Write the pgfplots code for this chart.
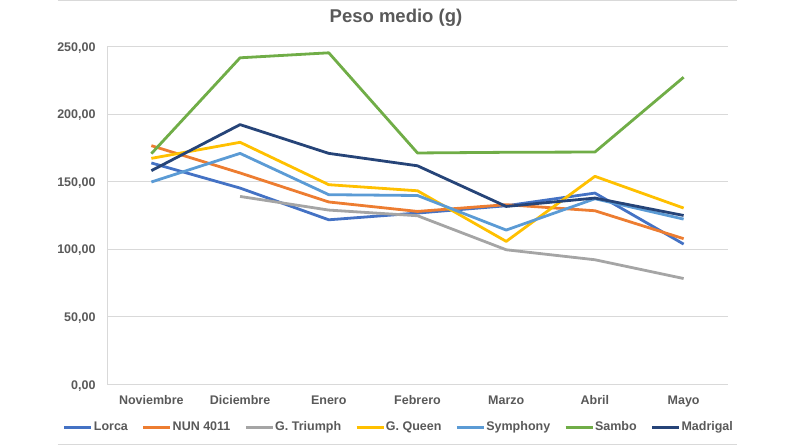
\documentclass[border=0pt]{standalone}
\usepackage{pgfplots}
\pgfplotsset{compat=1.18}
\usepackage{fontspec}
\setmainfont{Liberation Sans}

\definecolor{txt}{HTML}{595959}
\definecolor{gridc}{HTML}{D9D9D9}
\definecolor{cLorca}{HTML}{4472C4}
\definecolor{cNun}{HTML}{ED7D31}
\definecolor{cTriumph}{HTML}{A5A5A5}
\definecolor{cQueen}{HTML}{FFC000}
\definecolor{cSymph}{HTML}{5B9BD5}
\definecolor{cSambo}{HTML}{70AD47}
\definecolor{cMadrigal}{HTML}{264478}

\newcommand{\lbl}{\fontsize{12.5bp}{15bp}\selectfont\bfseries}

\begin{document}
\begin{tikzpicture}
\useasboundingbox (-107bp,-61.5bp) rectangle (685bp,384.5bp);
% faint frame lines of the original slide
\draw[gridc, line width=1bp] (-49bp,383.5bp) -- (630bp,383.5bp);
\draw[gridc, line width=1bp] (-49bp,-59.5bp) -- (630bp,-59.5bp);
\begin{axis}[
  scale only axis, width=621bp, height=337.5bp,
  xmin=-0.5, xmax=6.5, ymin=0, ymax=250,
  xtick={0,...,6},
  xticklabels={Noviembre,Diciembre,Enero,Febrero,Marzo,Abril,Mayo},
  ytick={0,50,...,250},
  axis lines=left, axis line style={-, draw=gridc, line width=1bp},
  x axis line style={draw=none},
  major tick length=0pt,
  ymajorgrids, xmajorgrids=false, grid style={draw=gridc, line width=1bp},
  yticklabel style={/pgf/number format/.cd, fixed, fixed zerofill, precision=2,
    use comma, assume math mode=true, /tikz/.cd,
    font=\lbl, text=txt, anchor=base east, inner sep=0pt, xshift=-11.3bp, yshift=-4.5bp},
  xticklabel style={font=\lbl, text=txt, anchor=base, inner sep=0pt, yshift=-19.5bp},
  title={Peso medio (g)},
  title style={font=\fontsize{18.5bp}{22bp}\selectfont\bfseries, text=txt,
    at={(axis description cs:0.5,1)}, anchor=base, inner sep=0pt,
    yshift=18.7bp, xshift=-21.5bp},
  legend columns=7,
  legend style={at={(axis description cs:0.4694,-0.1265)}, anchor=center,
    draw=none, fill=none, font=\lbl, text=txt,
    nodes={inner xsep=1bp, inner ysep=0pt},
    /tikz/every even column/.append style={column sep=13bp}},
  legend image code/.code={\draw[#1] (0bp,0bp) -- (27bp,0bp);},
  every axis plot/.append style={line width=2.8bp, line join=round, mark=none},
]
\addplot[cLorca] coordinates
{(0,164.1)(1,145.5)(2,122.0)(3,127.0)(4,132.4)(5,141.8)(6,104.0)};
\addplot[cNun] coordinates
{(0,176.9)(1,156.7)(2,135.2)(3,128.2)(4,133.2)(5,128.7)(6,108.0)};
\addplot[cTriumph] coordinates
{(1,139.3)(2,129.2)(3,125.0)(4,99.8)(5,92.4)(6,78.5)};
\addplot[cQueen] coordinates
{(0,167.5)(1,179.4)(2,148.0)(3,143.5)(4,106.0)(5,154.2)(6,130.7)};
\addplot[cSymph] coordinates
{(0,150.0)(1,171.2)(2,140.6)(3,140.0)(4,114.4)(5,137.6)(6,122.5)};
\addplot[cSambo] coordinates
{(0,171.0)(1,242.0)(2,245.7)(3,171.5)(4,172.0)(5,172.2)(6,227.6)};
\addplot[cMadrigal] coordinates
{(0,158.4)(1,192.5)(2,171.2)(3,162.0)(4,131.9)(5,138.1)(6,125.2)};
\legend{Lorca, NUN 4011, G. Triumph, G. Queen, Symphony, Sambo, Madrigal}
\end{axis}
\end{tikzpicture}
\end{document}
